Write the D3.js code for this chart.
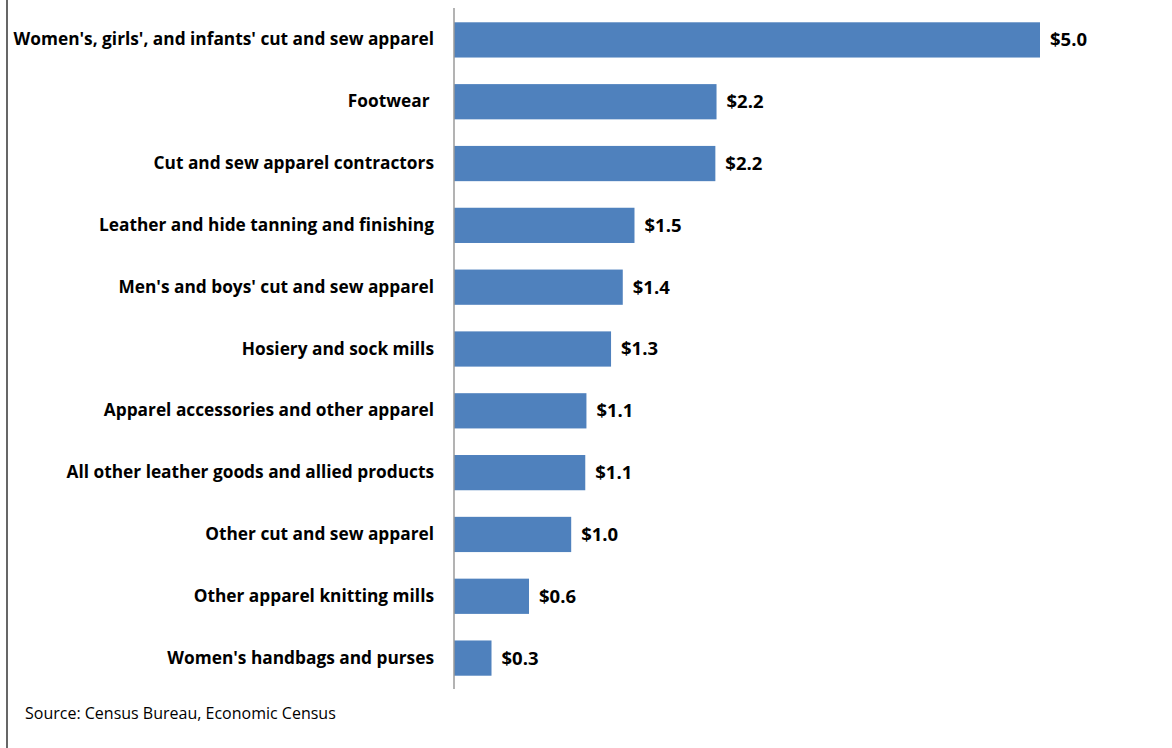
<!DOCTYPE html>
<html><head><meta charset="utf-8">
<script src="https://cdn.jsdelivr.net/npm/d3@7"></script>
<style>body{margin:0;background:#fff}svg{display:block}.tick text{white-space:pre}</style>
</head><body><svg id="c" width="1172" height="748"></svg>
<script>
const categories = ["Women's, girls', and infants' cut and sew apparel","Footwear ","Cut and sew apparel contractors","Leather and hide tanning and finishing","Men's and boys' cut and sew apparel","Hosiery and sock mills","Apparel accessories and other apparel","All other leather goods and allied products","Other cut and sew apparel","Other apparel knitting mills","Women's handbags and purses"];
const values = [5.0, 2.24, 2.23, 1.54, 1.44, 1.34, 1.13, 1.12, 1.0, 0.64, 0.32];
const valueLabels = ["$5.0","$2.2","$2.2","$1.5","$1.4","$1.3","$1.1","$1.1","$1.0","$0.6","$0.3"];
const source = "Source: Census Bureau, Economic Census";

const svg = d3.select("#c");
const font = "'Open Sans', sans-serif";
const x = d3.scaleLinear().domain([0, 5]).range([454, 1040]);
const y = d3.scaleBand().domain(categories).range([9, 689]).paddingInner(0.43).paddingOuter(0.215);

svg.append("line").attr("x1",7).attr("x2",7).attr("y1",0).attr("y2",748).attr("stroke","#000").attr("stroke-width",1.2);

svg.selectAll("rect.bar").data(categories).join("rect").attr("class","bar")
  .attr("x", x(0)).attr("y", d=>y(d)).attr("width", (d,i)=>x(values[i])-x(0)).attr("height", y.bandwidth())
  .attr("fill","#4F81BD");

const ax = svg.append("g").attr("transform",`translate(${x(0)},0)`).call(d3.axisLeft(y).tickSize(0).tickPadding(20));
ax.select(".domain").attr("stroke","#9a9a9a").attr("stroke-width",1.5).attr("d","M0,8V689");
ax.selectAll("text").attr("font-family",font).attr("font-weight","bold").attr("font-size",17.3).attr("fill","#000");

svg.selectAll("text.val").data(categories).join("text").attr("class","val")
  .attr("x",(d,i)=>x(values[i])+10).attr("y",d=>y(d)+y.bandwidth()/2).attr("dy","0.35em")
  .attr("font-family",font).attr("font-weight","bold").attr("font-size",18.5).text((d,i)=>valueLabels[i]);

svg.append("text").attr("x",25).attr("y",719).attr("font-family",font).attr("font-size",16).attr("fill","#000").text(source);
</script></body></html>
